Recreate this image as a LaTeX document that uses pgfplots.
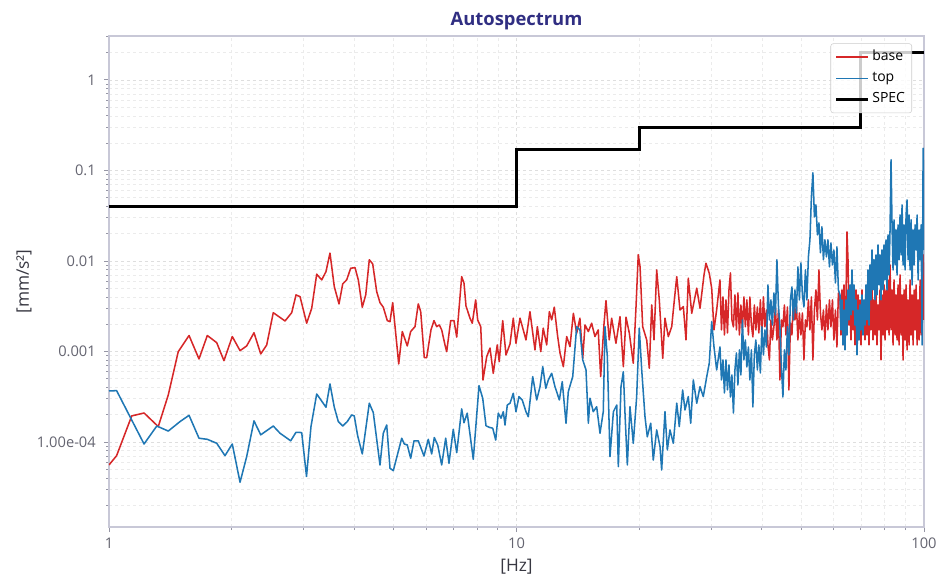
\documentclass[border=0pt]{standalone}
\usepackage{fontspec}
\setmainfont{Open Sans}
\usepackage{pgfplots}
\pgfplotsset{compat=1.18}
\definecolor{titlecol}{RGB}{48,46,130}
\definecolor{tickcol}{RGB}{100,100,112}
\definecolor{tickmark}{RGB}{150,150,165}
\definecolor{labcol}{RGB}{55,55,65}
\definecolor{framecol}{RGB}{200,200,215}
\definecolor{tabred}{HTML}{D62728}
\definecolor{tabblue}{HTML}{1F77B4}

\pgfplotstableread{
f v
1.0 5.57e-5
1.044 7.06e-5
1.137 1.94e-4
1.219 2.09e-4
1.321 1.48e-4
1.398 3.31e-4
1.479 9.95e-4
1.572 1.50e-3
1.663 8.26e-4
1.743 1.50e-3
1.838 1.25e-3
1.915 7.91e-4
2.007 1.46e-3
2.097 1.02e-3
2.177 1.15e-3
2.269 1.61e-3
2.357 9.38e-4
2.438 1.18e-3
2.53 2.68e-3
2.704 2.17e-3
2.808 2.68e-3
2.877 4.21e-3
2.943 4.03e-3
3.056 2.05e-3
3.144 3.00e-3
3.234 7.13e-3
3.327 6.17e-3
3.408 7.62e-3
3.486 1.22e-2
3.572 5.20e-3
3.668 3.35e-3
3.746 5.57e-3
3.831 6.17e-3
3.919 8.30e-3
4.015 8.43e-3
4.091 6.17e-3
4.184 3.08e-3
4.266 4.21e-3
4.353 1.03e-2
4.437 9.27e-3
4.539 4.58e-3
4.624 3.46e-3
4.711 3.08e-3
4.819 2.19e-3
4.893 2.13e-3
4.968 3.46e-3
5.14 7.28e-4
5.245 1.66e-3
5.395 1.15e-3
5.5 1.66e-3
5.636 1.88e-3
5.741 3.35e-3
5.82 2.75e-3
5.939 8.54e-4
6.02 8.54e-4
6.168 1.73e-3
6.274 2.19e-3
6.37 1.88e-3
6.465 1.96e-3
6.553 1.73e-3
6.677 1.18e-3
6.741 9.95e-4
6.895 2.19e-3
7.025 2.19e-3
7.134 1.44e-3
7.337 6.71e-3
7.434 5.67e-3
7.518 3.18e-3
7.69 2.33e-3
7.79 2.05e-3
7.941 3.71e-3
8.03 2.23e-3
8.17 1.88e-3
8.276 4.84e-4
8.451 8.76e-4
8.61 1.09e-3
8.77 5.74e-4
8.97 1.18e-3
9.07 7.72e-4
9.25 2.19e-3
9.424 9.15e-4
9.64 1.21e-3
9.82 2.33e-3
9.97 1.23e-3
10.2 2.33e-3
10.39 1.73e-3
10.55 1.34e-3
10.79 2.75e-3
11.1 1.04e-3
11.25 1.88e-3
11.47 9.95e-4
11.63 1.81e-3
11.86 1.18e-3
12.04 2.75e-3
12.2 2.23e-3
12.38 3.08e-3
12.62 1.46e-3
12.79 9.55e-4
13.03 6.79e-4
13.28 1.46e-3
13.53 1.13e-3
13.79 2.64e-3
14.05 1.59e-3
14.31 2.33e-3
14.54 8.41e-4
14.73 1.96e-3
15.01 1.66e-3
15.29 2.05e-3
15.58 1.46e-3
15.87 1.73e-3
16.09 5.27e-4
16.39 1.96e-3
16.58 3.64e-3
16.89 1.34e-3
17.12 2.33e-3
17.54 1.23e-3
17.95 2.42e-3
18.29 6.79e-4
18.57 2.39e-3
18.92 1.59e-3
19.35 7.41e-4
19.65 3.13e-3
19.9 1.17e-2
20.1 8.65e-3
20.4 1.88e-3
20.87 1.34e-3
21.18 6.52e-4
21.47 3.26e-3
21.75 1.34e-3
22.08 7.95e-3
22.41 3.71e-3
22.85 8.41e-4
23.14 2.33e-3
23.58 1.46e-3
24.04 1.88e-3
24.26 2.87e-3
24.73 6.71e-3
25.19 2.87e-3
25.67 3.13e-3
26.06 1.34e-3
26.4 6.44e-3
26.92 2.64e-3
27.69 4.99e-3
28.21 3.00e-3
28.85 7.00e-3
29.17 9.43e-3
29.72 7.31e-3
30.13 4.99e-3
30.52 1.73e-3
30.99 2.87e-3
31.57 6.17e-3
31.84 1.73e-3
32.11 4.00e-3
32.38 1.52e-3
32.66 3.71e-3
32.94 1.60e-3
33.22 4.78e-3
33.50 7.37e-3
33.78 2.23e-3
34.07 1.87e-3
34.36 4.21e-3
34.65 1.73e-3
34.94 4.43e-3
35.24 1.52e-3
35.54 3.26e-3
35.84 1.73e-3
36.15 4.00e-3
36.45 1.87e-3
36.76 3.71e-3
37.08 1.52e-3
37.39 4.00e-3
37.71 1.96e-3
38.03 1.45e-3
38.35 3.26e-3
38.68 1.73e-3
39.01 3.10e-3
39.34 1.60e-3
39.68 3.71e-3
40.01 1.52e-3
40.36 4.00e-3
40.70 1.87e-3
41.05 2.87e-3
41.40 1.18e-3
41.75 8.06e-4
42.10 2.23e-3
42.46 1.34e-3
42.82 1.87e-3
43.19 3.10e-3
43.56 1.34e-3
43.93 2.87e-3
44.30 4.84e-4
44.68 2.23e-3
45.06 1.87e-3
45.44 3.26e-3
45.83 1.52e-3
46.22 3.10e-3
46.61 3.76e-4
47.01 2.06e-3
47.41 1.52e-3
47.81 3.71e-3
48.22 2.23e-3
48.63 3.26e-3
49.04 1.34e-3
49.46 2.66e-3
49.88 1.52e-3
50.31 2.66e-3
50.74 8.06e-4
51.17 2.23e-3
51.60 1.87e-3
52.04 3.71e-3
52.49 1.73e-3
52.93 4.00e-3
53.38 8.06e-4
53.84 2.87e-3
54.30 4.78e-3
54.76 2.23e-3
55.23 7.95e-3
55.70 2.66e-3
56.17 1.73e-3
56.65 2.87e-3
57.13 1.34e-3
57.62 3.26e-3
58.11 1.73e-3
58.61 3.71e-3
59.10 1.87e-3
59.61 3.71e-3
60.11 1.34e-3
60.63 2.87e-3
61.14 1.12e-3
61.66 4.43e-3
62.21 3.71e-3
62.56 1.52e-3
62.92 4.78e-3
63.27 1.18e-3
63.63 5.43e-3
63.99 1.73e-3
64.35 3.71e-3
64.72 2.09e-2
65.09 1.03e-2
65.46 1.96e-3
65.83 2.87e-3
66.20 1.34e-3
66.58 5.43e-3
66.95 1.73e-3
67.33 4.21e-3
67.71 1.18e-3
68.10 4.78e-3
68.48 1.52e-3
68.87 4.21e-3
69.26 1.34e-3
69.66 3.71e-3
70.05 1.18e-3
70.45 4.78e-3
70.85 1.73e-3
71.25 3.26e-3
71.66 1.34e-3
72.06 4.78e-3
72.47 1.52e-3
72.88 3.71e-3
73.30 1.18e-3
73.71 4.21e-3
74.13 1.73e-3
74.55 5.43e-3
74.97 1.34e-3
75.40 3.71e-3
75.83 1.52e-3
76.26 4.78e-3
76.69 1.18e-3
77.12 3.26e-3
77.56 1.73e-3
78.00 4.78e-3
78.44 8.06e-4
78.89 4.21e-3
79.34 1.52e-3
79.79 5.43e-3
80.24 1.34e-3
80.69 4.78e-3
81.15 1.73e-3
81.61 6.17e-3
82.08 1.52e-3
82.54 9.03e-3
83.01 1.73e-3
83.48 4.78e-3
83.96 1.18e-3
84.43 6.17e-3
84.91 1.52e-3
85.40 4.21e-3
85.88 1.34e-3
86.37 5.43e-3
86.86 1.18e-3
87.35 7.00e-3
87.85 1.52e-3
88.35 4.21e-3
88.85 8.06e-4
89.35 4.78e-3
89.86 1.34e-3
90.37 5.43e-3
90.88 1.04e-3
91.40 3.71e-3
91.92 1.18e-3
92.44 6.17e-3
92.97 1.52e-3
93.49 4.21e-3
94.03 1.18e-3
94.56 4.78e-3
95.10 1.73e-3
95.64 5.43e-3
96.18 1.18e-3
96.73 3.71e-3
97.28 1.34e-3
97.83 6.17e-3
98.39 1.52e-3
98.94 7.95e-3
99.51 1.165e-2
100 2.23e-3
}\basedata

\pgfplotstableread{
f v
1.0 3.66e-4
1.044 3.69e-4
1.219 9.5e-5
1.31 1.50e-4
1.398 1.32e-4
1.494 1.68e-4
1.572 1.97e-4
1.663 1.10e-4
1.743 1.07e-4
1.838 9.68e-5
1.926 7.06e-5
2.007 9.5e-5
2.097 3.59e-5
2.177 6.88e-5
2.269 1.71e-4
2.357 1.20e-4
2.53 1.50e-4
2.628 1.25e-4
2.792 1.03e-4
2.877 1.28e-4
2.971 1.27e-4
3.053 4.16e-5
3.131 1.48e-4
3.234 3.39e-4
3.408 2.42e-4
3.486 4.37e-4
3.572 2.42e-4
3.654 1.68e-4
3.746 1.50e-4
3.844 1.68e-4
3.941 1.99e-4
3.999 1.94e-4
4.076 1.17e-4
4.184 7.37e-5
4.353 2.68e-4
4.452 2.11e-4
4.624 5.57e-5
4.711 1.25e-4
4.803 1.54e-4
4.893 5.12e-5
4.985 4.82e-5
5.228 1.10e-4
5.305 9.5e-5
5.395 9.27e-5
5.5 6.6e-5
5.604 1.03e-4
5.741 1.03e-4
5.929 7.0e-5
6.075 1.07e-4
6.193 7.37e-5
6.285 1.12e-4
6.406 9.27e-5
6.553 5.57e-5
6.703 1.10e-4
6.829 5.82e-5
6.996 1.38e-4
7.134 7.62e-5
7.337 2.32e-4
7.434 1.63e-4
7.57 2.08e-4
7.834 6.44e-5
8.091 4.19e-4
8.262 3.04e-4
8.418 1.51e-4
8.577 1.45e-4
8.743 1.42e-4
8.892 1.05e-4
9.022 2.08e-4
9.162 1.83e-4
9.282 2.16e-4
9.372 1.54e-4
9.493 2.56e-4
9.64 2.68e-4
9.82 3.45e-4
9.97 2.16e-4
10.14 3.17e-4
10.33 2.91e-4
10.55 2.16e-4
10.69 1.90e-4
10.96 5.27e-4
11.21 2.91e-4
11.42 4.08e-4
11.6 6.79e-4
11.8 3.92e-4
11.97 4.84e-4
12.2 5.74e-4
12.43 4.08e-4
12.74 2.91e-4
12.95 4.64e-4
13.23 1.61e-4
13.4 3.6e-4
13.74 5.27e-4
14.05 1.88e-3
14.31 1.73e-3
14.54 8.06e-4
14.81 6.25e-4
15.01 1.61e-4
15.15 3.04e-4
15.43 2.16e-4
15.73 2.45e-4
16.03 1.25e-4
16.33 2.16e-4
16.49 1.88e-3
16.71 8.76e-4
16.96 6.88e-5
17.29 2.16e-4
17.62 2.56e-4
17.78 5.34e-5
18.05 4.08e-4
18.29 5.98e-4
18.47 1.99e-4
18.71 5.57e-5
18.99 2.45e-4
19.35 9.67e-5
19.72 3.17e-4
20.01 1.81e-3
20.29 6.25e-4
20.67 1.90e-4
20.94 1.14e-4
21.35 1.61e-4
21.66 6.32e-5
22.08 1.36e-4
22.5 8.87e-5
22.71 4.9e-5
23.14 2.16e-4
23.45 8.16e-5
23.8 1.36e-4
24.26 9.67e-5
24.73 2.68e-4
25.09 1.48e-4
25.57 3.75e-4
25.91 2.26e-4
26.4 3.17e-4
26.76 1.61e-4
27.16 4.84e-4
27.69 2.68e-4
28.21 4.08e-4
28.73 3.17e-4
29.3 5.27e-4
29.72 7.41e-4
30.13 2.13e-3
30.52 1.13e-3
30.99 6.25e-4
31.57 1.12e-3
31.84 4.84e-4
32.11 8.06e-4
32.38 3.48e-4
32.66 8.06e-4
32.94 3.76e-4
33.22 7.09e-4
33.50 3.14e-4
33.78 5.50e-4
34.07 2.09e-4
34.36 6.25e-4
34.65 9.62e-4
34.94 4.26e-4
35.24 1.04e-3
35.54 5.50e-4
35.84 2.23e-3
36.15 8.06e-4
36.45 1.34e-3
36.76 6.74e-4
37.08 1.12e-3
37.39 4.84e-4
37.71 1.04e-3
38.03 2.44e-4
38.35 9.15e-4
38.68 1.34e-3
39.01 6.25e-4
39.34 1.18e-3
39.68 5.79e-4
40.01 1.87e-3
40.36 9.15e-4
40.70 1.73e-3
41.05 1.12e-3
41.40 5.43e-3
41.75 2.23e-3
42.10 3.71e-3
42.46 1.96e-3
42.82 4.43e-3
43.19 2.53e-3
43.56 1.03e-2
43.93 3.26e-3
44.30 1.87e-3
44.68 6.74e-4
45.06 3.14e-4
45.44 1.04e-3
45.83 6.25e-4
46.22 1.87e-3
46.61 9.15e-4
47.01 3.71e-3
47.41 5.16e-3
47.81 2.23e-3
48.22 4.78e-3
48.63 2.66e-3
49.04 8.59e-3
49.46 3.71e-3
49.88 9.50e-3
50.31 4.21e-3
50.74 3.10e-3
51.17 7.95e-3
51.60 3.71e-3
52.04 1.11e-2
52.49 1.71e-2
52.93 5.10e-2
53.38 9.39e-2
53.84 3.06e-2
54.30 4.16e-2
54.76 1.94e-2
55.23 2.63e-2
55.70 1.23e-2
56.17 2.38e-2
56.65 1.03e-2
57.13 1.71e-2
57.62 1.11e-2
58.11 1.71e-2
58.61 8.59e-3
59.10 1.58e-2
59.61 9.03e-3
60.11 1.32e-2
60.63 5.71e-3
61.14 1.43e-2
61.66 4.78e-3
62.21 4.21e-3
62.56 1.73e-3
62.92 3.71e-3
63.27 1.18e-3
63.63 2.87e-3
63.99 1.04e-3
64.35 3.71e-3
64.72 1.52e-3
65.09 4.78e-3
65.46 2.23e-3
65.83 5.43e-3
66.20 2.53e-3
66.58 7.95e-3
66.95 2.87e-3
67.33 5.43e-3
67.71 1.96e-3
68.10 3.71e-3
68.48 9.15e-4
68.87 2.87e-3
69.26 1.34e-3
69.66 3.26e-3
70.05 1.73e-3
70.45 4.21e-3
70.85 1.52e-3
71.25 3.71e-3
71.66 1.96e-3
72.06 5.43e-3
72.47 2.23e-3
72.88 7.95e-3
73.30 1.96e-3
73.71 9.03e-3
74.13 3.71e-3
74.55 1.32e-2
74.97 4.78e-3
75.40 1.03e-2
75.83 3.71e-3
76.26 1.165e-2
76.69 4.21e-3
77.12 1.50e-2
77.56 5.43e-3
78.00 1.165e-2
78.44 3.71e-3
78.89 1.32e-2
79.34 4.78e-3
79.79 1.50e-2
80.24 6.17e-3
80.69 1.71e-2
81.15 4.78e-3
81.61 1.94e-2
82.08 7.00e-3
82.54 2.20e-2
83.01 1.31e-1
83.48 2.50e-2
83.96 7.95e-3
84.43 2.84e-2
84.91 9.03e-3
85.40 2.20e-2
85.88 7.00e-3
86.37 2.50e-2
86.86 1.03e-2
87.35 3.22e-2
87.85 1.165e-2
88.35 4.16e-2
88.85 9.03e-3
89.35 2.50e-2
89.86 7.95e-3
90.37 3.22e-2
90.88 4.72e-2
91.40 1.03e-2
91.92 3.22e-2
92.44 7.95e-3
92.97 2.84e-2
93.49 5.43e-3
94.03 2.20e-2
94.56 9.03e-3
95.10 2.50e-2
95.64 1.32e-2
96.18 3.22e-2
96.73 6.17e-3
97.28 2.20e-2
97.83 1.03e-2
98.39 2.50e-2
98.94 1.18e-3
99.51 1.76e-1
100 1.32e-2
}\topdata

\pgfplotstableread{
f v
1 0.04
10 0.04
10 0.17
20 0.17
20 0.30
70 0.30
70 2.0
100 2.0
}\specdata

\begin{document}
\begin{tikzpicture}
\begin{axis}[
  scale only axis, width=611.25pt, height=368.25pt,
  xmode=log, ymode=log,
  xmin=1, xmax=100, ymin=1.15e-5, ymax=3.05,
  xtick={1,10,100}, xticklabels={1,10,100},
  minor xtick={2,3,4,5,6,7,8,9,20,30,40,50,60,70,80,90},
  ytick={1e-4,1e-3,1e-2,0.1,1},
  yticklabels={1.00e-04,0.001,0.01,0.1,1},
  minor ytick={2e-5,3e-5,4e-5,5e-5,6e-5,7e-5,8e-5,9e-5,
    2e-4,3e-4,4e-4,5e-4,6e-4,7e-4,8e-4,9e-4,
    2e-3,3e-3,4e-3,5e-3,6e-3,7e-3,8e-3,9e-3,
    0.02,0.03,0.04,0.05,0.06,0.07,0.08,0.09,
    0.2,0.3,0.4,0.5,0.6,0.7,0.8,0.9,2,3},
  /pgf/number format/assume math mode=true,
  tick pos=left, tick align=outside,
  major tick length=3.75pt, minor tick length=2.25pt,
  every tick/.style={tickmark, line width=0.6pt},
  axis line style={framecol, line width=0.8pt},
  grid=both,
  major grid style={black!13, dash pattern=on 2.5pt off 2pt, line width=0.5pt},
  minor grid style={black!8, dash pattern=on 2.5pt off 2pt, line width=0.5pt},
  ticklabel style={font=\fontsize{11}{13}\selectfont, text=tickcol},
  xticklabel style={anchor=north, inner sep=0pt, yshift=-4.5pt},
  yticklabel style={anchor=east, inner sep=0pt, xshift=-6pt},
  title={Autospectrum},
  title style={font=\bfseries\fontsize{13.8}{16}\selectfont, text=titlecol, at={(0.5,1)}, anchor=base, yshift=2.25pt},
  xlabel={[Hz]},
  xlabel style={font=\fontsize{13}{15}\selectfont, text=labcol, at={(axis description cs:0.5,0)}, anchor=base, yshift=-33pt},
  ylabel={[mm/s²]},
  ylabel style={font=\fontsize{13}{15}\selectfont, text=labcol, at={(axis description cs:0,0.5)}, anchor=base, yshift=60pt},
  legend image code/.code={\draw[#1] (0pt,0pt) -- (24pt,0pt);},
  legend cell align=left,
  legend style={at={(1,1)}, anchor=north east, xshift=-9pt, yshift=-5.5pt,
    draw=black!20, fill=white, fill opacity=0.8, text opacity=1, draw opacity=1,
    rounded corners=2pt, font=\fontsize{10.5}{12}\selectfont,
    inner xsep=3pt, inner ysep=2pt,
    nodes={text height=7.5pt, text depth=2.5pt, inner ysep=3pt}},
]
\addplot[tabred, line width=1.15pt, line join=round] table[x=f, y=v] {\basedata};
\addlegendentry{base}
\addplot[tabblue, line width=1.15pt, line join=round] table[x=f, y=v] {\topdata};
\addlegendentry{top}
\addplot[black, line width=2.2pt] table[x=f, y=v] {\specdata};
\addlegendentry{SPEC}
\end{axis}
\pgfresetboundingbox
\path[use as bounding box] (-81.75pt,-45pt) rectangle (628.5pt,395.25pt);
\end{tikzpicture}
\end{document}
